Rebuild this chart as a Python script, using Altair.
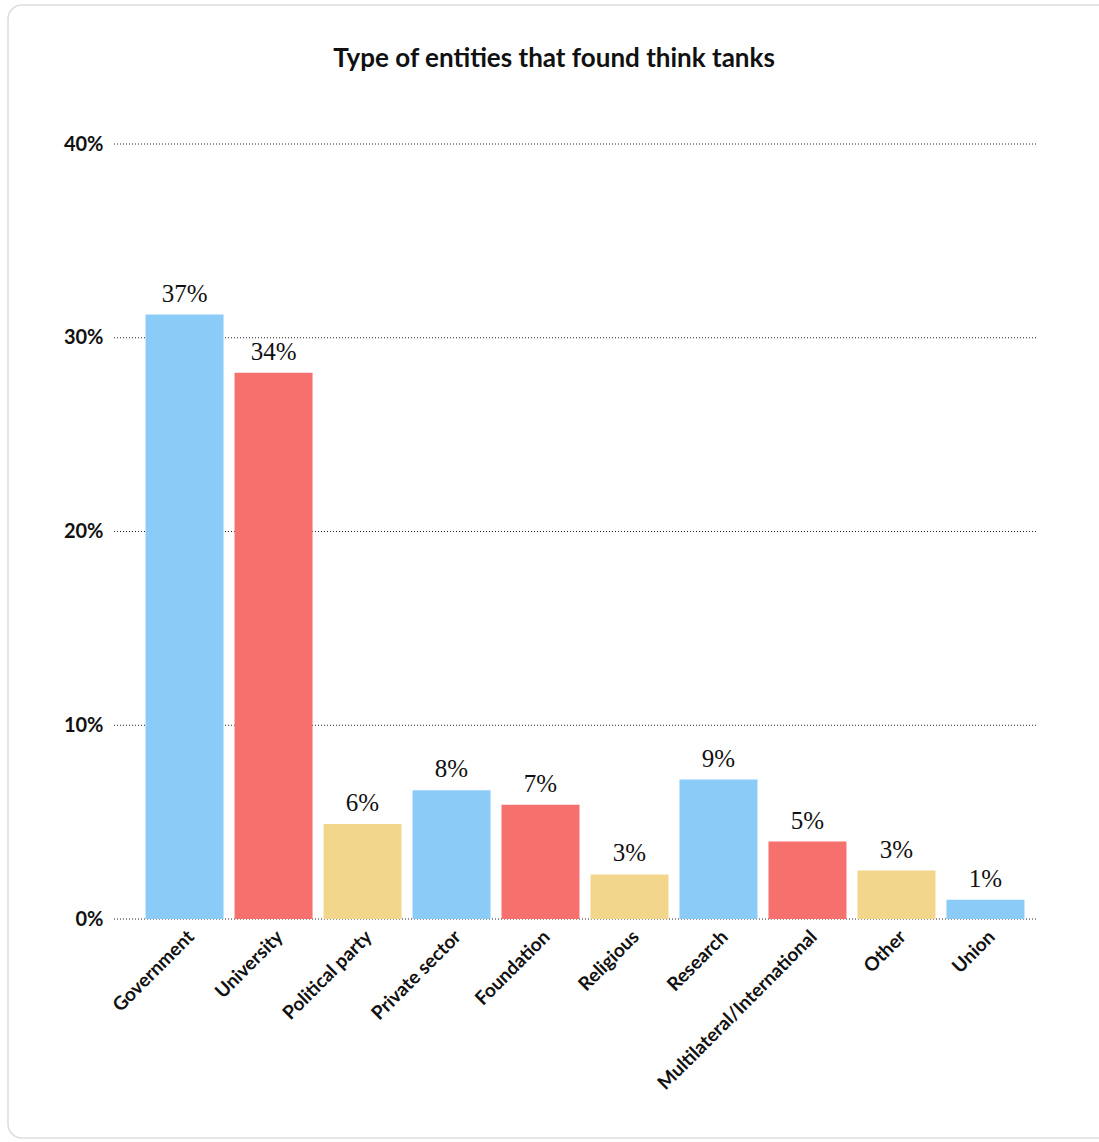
import altair as alt
import pandas as pd

categories = ["Government", "University", "Political party", "Private sector", "Foundation",
              "Religious", "Research", "Multilateral/International", "Other", "Union"]
bar_values = [31.2, 28.2, 4.9, 6.65, 5.9, 2.3, 7.2, 4.0, 2.5, 1.0]
label_texts = ["37%", "34%", "6%", "8%", "7%", "3%", "9%", "5%", "3%", "1%"]
colors = ["#8ACBF8", "#F6716D", "#F1D68C", "#8ACBF8", "#F6716D",
          "#F1D68C", "#8ACBF8", "#F6716D", "#F1D68C", "#8ACBF8"]
grid_values = [0, 10, 20, 30, 40]
title_text = "Type of entities that found think tanks"

df = pd.DataFrame({"cat": categories, "val": [v / 100 for v in bar_values],
                   "lab": label_texts, "col": colors})
grid_df = pd.DataFrame({"g": [g / 100 for g in grid_values]})

W, H = 902, 775

xenc = alt.X("cat:N", sort=categories,
             scale=alt.Scale(paddingInner=0.124, paddingOuter=0.13),
             axis=alt.Axis(title=None, labelAngle=-45, labelAlign="right", labelBaseline="top",
                           labelPadding=8, ticks=False, domain=False, labelLimit=0,
                           labelFont="Lato", labelFontWeight="bold", labelFontSize=19,
                           labelColor="#111"))
yscale = alt.Scale(domain=[0, 0.4])

grid = alt.Chart(grid_df).mark_rule(color="#222", strokeDash=[1, 2], strokeWidth=1).encode(
    y=alt.Y("g:Q", scale=yscale,
            axis=alt.Axis(title=None, format=".0%", values=[g / 100 for g in grid_values],
                          grid=False, ticks=False, domain=False, labelPadding=31,
                          labelFont="Lato", labelFontWeight="bold", labelFontSize=20,
                          labelColor="#111")),
    x=alt.value(-20), x2=alt.value(W)
)

bars = alt.Chart(df).mark_bar(size=78).encode(
    x=xenc,
    y=alt.Y("val:Q", scale=yscale),
    color=alt.Color("col:N", scale=None, legend=None),
)

labels = alt.Chart(df).mark_text(font="Liberation Serif", fontSize=25, dy=-8,
                                 baseline="bottom", color="#111").encode(
    x=alt.X("cat:N", sort=categories),
    y=alt.Y("val:Q", scale=yscale),
    text="lab:N",
)

title = alt.Chart(pd.DataFrame({"t": [title_text]})).mark_text(
    font="Lato", fontSize=26, fontWeight="bold", color="#111",
    align="center", baseline="middle"
).encode(x=alt.value(420), y=alt.value(-85), text="t:N")

border = alt.Chart(pd.DataFrame({"a": [0]})).mark_rect(
    fill="transparent", stroke="#dddddd", strokeWidth=1.5, cornerRadius=14
).encode(x=alt.value(-126), x2=alt.value(1000), y=alt.value(-139), y2=alt.value(994))

chart = alt.layer(border, title, grid, bars, labels).properties(
    width=W, height=H,
    autosize=alt.AutoSizeParams(type="none"),
    padding={"left": 134, "top": 144, "right": 63, "bottom": 223},
).configure(background="white", view=alt.ViewConfig(stroke="transparent", strokeWidth=0))

chart.save("out.html", embed_options={"renderer": "svg", "actions": False})
